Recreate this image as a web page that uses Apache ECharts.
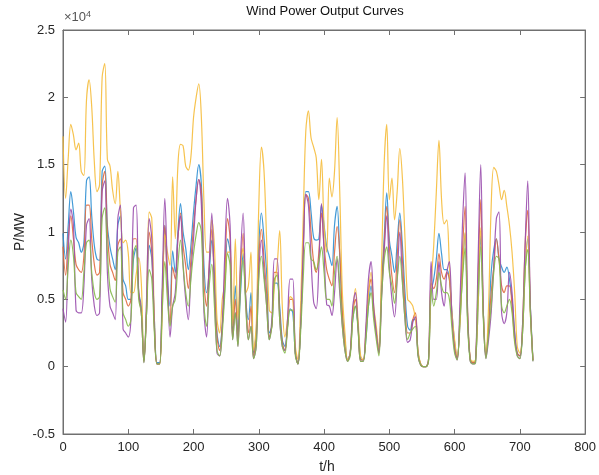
<!DOCTYPE html>
<html>
<head>
<meta charset="utf-8">
<script src="https://cdn.jsdelivr.net/npm/echarts@6/dist/echarts.min.js"></script>
<style>
html,body{margin:0;padding:0;background:#fff;}
#chart{width:599px;height:475px;}
</style>
</head>
<body>
<div id="chart"></div>
<script>
// time step of the sampled curves (hours)
var stepHours = 4;
var xTicks = [0,100,200,300,400,500,600,700,800];
var yTicks = [-0.5,0,0.5,1,1.5,2,2.5];

// values in units of 10^4 MW, sampled every 4 h from t = 0 to 720
var windBlue = [
0.99,0.80,1.05,1.30,1.15,0.96,0.92,0.85,0.92,1.38,
1.41,1.12,0.90,0.80,0.79,1.45,1.49,1.05,0.89,0.80,
0.72,1.05,1.12,0.65,0.60,0.50,0.50,0.80,0.88,0.55,
0.45,0.05,0.40,0.90,0.80,0.35,0.03,0.03,0.50,1.05,
0.65,0.45,0.86,0.70,1.00,1.21,1.00,0.88,0.72,0.90,
1.15,1.35,1.50,1.35,0.75,0.55,0.70,0.94,0.70,0.25,
0.15,0.30,0.60,0.95,0.85,0.25,0.60,0.25,0.55,0.84,
0.50,0.35,0.55,0.10,0.25,0.90,1.14,0.95,0.70,0.25,
0.30,0.62,0.62,0.45,0.20,0.15,0.30,0.43,0.40,0.10,
0.02,0.30,0.85,1.30,1.30,1.15,0.96,0.94,0.95,1.20,
1.05,0.89,0.82,0.75,1.05,1.19,0.82,0.40,0.20,0.05,
0.10,0.35,0.45,0.30,0.06,0.05,0.20,0.45,0.60,0.40,
0.25,0.12,0.60,0.95,1.29,0.94,0.82,0.70,0.92,1.14,
0.90,0.55,0.30,0.27,0.35,0.35,0.10,0.02,0.00,0.00,
0.05,0.55,0.65,0.80,0.99,0.84,0.72,0.72,0.65,0.40,
0.18,0.07,0.30,0.70,0.99,0.35,0.05,0.03,0.04,0.45,
0.97,0.40,0.08,0.30,0.70,0.87,0.95,0.80,0.74,0.70,
0.74,0.65,0.50,0.25,0.10,0.08,0.25,0.70,0.95,0.45,
0.05];

var windRed = [
0.89,0.68,0.95,1.12,0.95,0.76,0.72,0.70,0.82,1.20,
1.20,0.95,0.76,0.68,0.70,1.35,1.45,1.00,0.76,0.70,
0.64,0.90,0.95,0.55,0.50,0.45,0.50,0.95,0.95,0.55,
0.40,0.04,0.40,1.00,0.85,0.30,0.02,0.02,0.50,1.05,
0.60,0.32,0.74,0.65,0.95,1.14,0.90,0.75,0.58,0.80,
1.04,1.25,1.39,1.30,0.62,0.45,0.75,1.02,0.60,0.22,
0.12,0.30,0.70,1.10,0.95,0.22,0.50,0.20,0.70,0.99,
0.50,0.25,0.45,0.08,0.20,0.80,1.02,0.80,0.55,0.22,
0.30,0.70,0.70,0.40,0.18,0.12,0.30,0.50,0.50,0.10,
0.02,0.30,0.85,1.28,1.25,1.00,0.78,0.70,0.85,1.14,
0.90,0.72,0.65,0.60,0.85,1.04,0.85,0.40,0.15,0.05,
0.10,0.40,0.50,0.30,0.05,0.05,0.25,0.55,0.65,0.40,
0.25,0.10,0.55,0.89,1.19,0.89,0.67,0.55,0.82,1.09,
0.80,0.45,0.25,0.25,0.35,0.40,0.10,0.02,0.00,0.00,
0.05,0.62,0.58,0.65,0.84,0.70,0.65,0.70,0.65,0.35,
0.15,0.06,0.35,0.85,1.19,0.35,0.05,0.03,0.04,0.65,
1.24,0.40,0.08,0.28,0.55,0.74,0.95,0.80,0.60,0.55,
0.60,0.60,0.45,0.20,0.10,0.08,0.30,0.90,1.16,0.45,
0.05];

var windYellow = [
1.71,1.25,1.55,1.80,1.72,1.61,1.66,1.45,1.42,1.98,
2.13,1.93,1.52,1.30,1.35,2.15,2.25,1.54,1.49,1.31,
1.21,1.45,1.16,0.92,0.94,0.84,0.55,0.55,0.68,0.81,
0.62,0.05,0.45,1.15,1.10,0.35,0.02,0.02,0.40,0.98,
0.85,0.75,1.41,0.95,1.49,1.65,1.64,1.49,1.46,1.56,
1.85,2.00,2.10,1.85,1.22,0.85,0.85,1.09,0.89,0.35,
0.25,0.50,0.62,0.85,0.85,0.30,0.95,0.35,0.75,0.88,
0.55,0.60,0.85,0.12,0.30,1.20,1.63,1.45,0.94,0.42,
0.40,0.60,0.75,1.01,0.45,0.22,0.35,0.52,0.50,0.15,
0.05,0.45,1.10,1.75,1.90,1.70,1.63,1.55,1.24,1.54,
1.05,0.85,1.40,1.26,1.45,1.85,1.30,0.55,0.25,0.05,
0.10,0.40,0.58,0.35,0.08,0.05,0.25,0.55,0.70,0.45,
0.30,0.12,0.75,1.50,1.80,1.24,1.40,1.09,1.30,1.62,
1.40,0.95,0.50,0.48,0.45,0.35,0.12,0.02,0.00,0.00,
0.05,0.60,0.90,1.30,1.68,1.24,1.06,1.09,0.75,0.40,
0.20,0.08,0.30,0.70,1.00,0.40,0.06,0.04,0.05,0.45,
1.03,0.40,0.10,0.45,1.19,1.48,1.45,1.35,1.24,1.31,
1.19,1.05,0.85,0.55,0.15,0.10,0.25,0.70,0.97,0.40,
0.05];

var windPurple = [
0.43,0.33,0.85,1.17,1.05,0.42,0.40,0.40,0.60,1.05,
1.10,0.65,0.45,0.38,0.40,1.30,1.38,0.70,0.45,0.40,
0.35,1.10,1.20,0.28,0.25,0.22,0.35,1.18,1.20,0.55,
0.40,0.03,0.50,1.10,0.95,0.30,0.02,0.02,0.60,1.25,
0.70,0.22,0.45,0.55,0.95,1.12,0.75,0.50,0.35,0.70,
0.95,1.25,1.39,1.20,0.40,0.22,0.75,1.14,0.55,0.10,
0.08,0.30,0.85,1.25,1.05,0.20,0.40,0.15,0.80,1.14,
0.50,0.20,0.30,0.06,0.15,0.70,0.94,0.70,0.45,0.20,
0.35,0.80,0.80,0.35,0.15,0.12,0.35,0.65,0.65,0.10,
0.02,0.30,0.85,1.28,1.20,0.80,0.48,0.43,0.75,1.21,
0.85,0.46,0.45,0.38,0.55,0.80,0.55,0.30,0.12,0.04,
0.10,0.45,0.55,0.30,0.04,0.04,0.30,0.65,0.78,0.45,
0.25,0.10,0.50,0.85,1.12,0.74,0.50,0.37,0.65,1.00,
0.65,0.35,0.18,0.20,0.33,0.37,0.08,0.01,0.00,0.00,
0.05,0.78,0.50,0.50,0.78,0.55,0.45,0.70,0.78,0.35,
0.12,0.05,0.45,1.05,1.44,0.40,0.04,0.02,0.03,0.80,
1.50,0.40,0.06,0.20,0.40,0.75,1.10,1.15,0.40,0.32,
0.40,0.70,0.55,0.25,0.08,0.06,0.30,0.90,1.38,0.45,
0.04];

var windGreen = [
0.57,0.50,0.75,0.94,0.82,0.55,0.52,0.50,0.70,0.92,
0.94,0.70,0.55,0.50,0.52,1.10,1.18,0.85,0.58,0.52,
0.48,0.85,0.89,0.40,0.35,0.30,0.35,0.85,0.90,0.50,
0.40,0.03,0.40,0.72,0.65,0.25,0.02,0.02,0.42,0.78,
0.50,0.30,0.45,0.50,0.75,0.94,0.75,0.55,0.45,0.65,
0.84,0.98,1.07,1.00,0.45,0.30,0.60,0.76,0.45,0.12,
0.08,0.25,0.55,0.84,0.75,0.20,0.40,0.15,0.60,0.79,
0.45,0.20,0.30,0.06,0.15,0.65,0.82,0.65,0.45,0.20,
0.30,0.65,0.68,0.35,0.15,0.10,0.28,0.42,0.42,0.08,
0.02,0.25,0.65,0.92,0.92,0.80,0.78,0.72,0.78,0.89,
0.70,0.50,0.50,0.45,0.70,0.82,0.60,0.30,0.12,0.04,
0.08,0.35,0.45,0.28,0.04,0.04,0.20,0.45,0.55,0.35,
0.20,0.08,0.50,0.79,0.89,0.70,0.60,0.47,0.65,0.82,
0.62,0.35,0.20,0.25,0.28,0.30,0.08,0.01,0.00,0.00,
0.04,0.58,0.45,0.55,0.70,0.60,0.55,0.55,0.50,0.28,
0.10,0.05,0.35,0.65,0.88,0.30,0.04,0.02,0.03,0.55,
0.89,0.35,0.06,0.25,0.45,0.70,0.82,0.80,0.45,0.40,
0.45,0.50,0.40,0.18,0.08,0.06,0.25,0.72,0.87,0.40,
0.04];

var seriesList = [
  {name:'Farm 1', data:windBlue,   color:'#2f8fd3'},
  {name:'Farm 2', data:windRed,    color:'#e06a3e'},
  {name:'Farm 3', data:windYellow, color:'#f5bd3c'},
  {name:'Farm 4', data:windPurple, color:'#9a4fae'},
  {name:'Farm 5', data:windGreen,  color:'#86b94c'}
];

function pairs(arr){
  var out = [];
  for (var i = 0; i < arr.length; i++) out.push([i*stepHours, arr[i]]);
  return out;
}

var font = '"Liberation Sans", Arial, Helvetica, sans-serif';
var axisColor = '#707070';
var textColor = '#262626';

function axisBase(extra){
  var a = {
    axisLine:{show:true, onZero:false, lineStyle:{color:axisColor}},
    axisTick:{show:true, inside:true, length:5, lineStyle:{color:axisColor}},
    splitLine:{show:false}
  };
  for (var k in extra) a[k] = extra[k];
  return a;
}

var chart = echarts.init(document.getElementById('chart'), null, {renderer:'canvas'});
var option = {
  animation:false,
  backgroundColor:'#ffffff',
  grid:{left:63, right:12, top:30, bottom:41, show:true, borderColor:axisColor, borderWidth:1, containLabel:false},
  xAxis:[
    axisBase({type:'value', min:xTicks[0], max:xTicks[xTicks.length-1], interval:100, position:'bottom',
      axisLabel:{color:textColor, fontFamily:font, fontSize:13, margin:7}}),
    axisBase({type:'value', min:xTicks[0], max:xTicks[xTicks.length-1], interval:100, position:'top',
      axisLabel:{show:false}})
  ],
  yAxis:[
    axisBase({type:'value', min:yTicks[0], max:yTicks[yTicks.length-1], interval:0.5, position:'left',
      axisLabel:{color:textColor, fontFamily:font, fontSize:13, margin:8,
        formatter:function(v){ return String(Math.round(v*10)/10); }}}),
    axisBase({type:'value', min:yTicks[0], max:yTicks[yTicks.length-1], interval:0.5, position:'right',
      axisLabel:{show:false}})
  ],
  series: seriesList.map(function(s){
    return {
      name:s.name, type:'line', xAxisIndex:0, yAxisIndex:0,
      data:pairs(s.data), showSymbol:false, smooth:0.35,
      lineStyle:{color:s.color, width:1.2, opacity:0.9},
      itemStyle:{color:s.color}
    };
  }),
  graphic:[
    {type:'text', x:325, y:11, style:{text:'Wind Power Output Curves', fill:'#111', font:'13px '+font, textAlign:'center', textVerticalAlign:'middle'}},
    {type:'text', x:64, y:10, style:{rich:{a:{fontSize:13, fontFamily:font, fill:'#555'}, b:{fontSize:9, fontFamily:font, fill:'#555', verticalAlign:'top', padding:[0,0,6,0]}}, text:'{a|×10}{b|4}'}},
    {type:'text', x:327, y:467, style:{text:'t/h', fill:textColor, font:'14px '+font, textAlign:'center', textVerticalAlign:'middle'}},
    {type:'text', x:20, y:232, rotation:Math.PI/2, style:{text:'P/MW', fill:textColor, font:'14px '+font, textAlign:'center', textVerticalAlign:'middle'}}
  ]
};
chart.setOption(option);
</script>
</body>
</html>
